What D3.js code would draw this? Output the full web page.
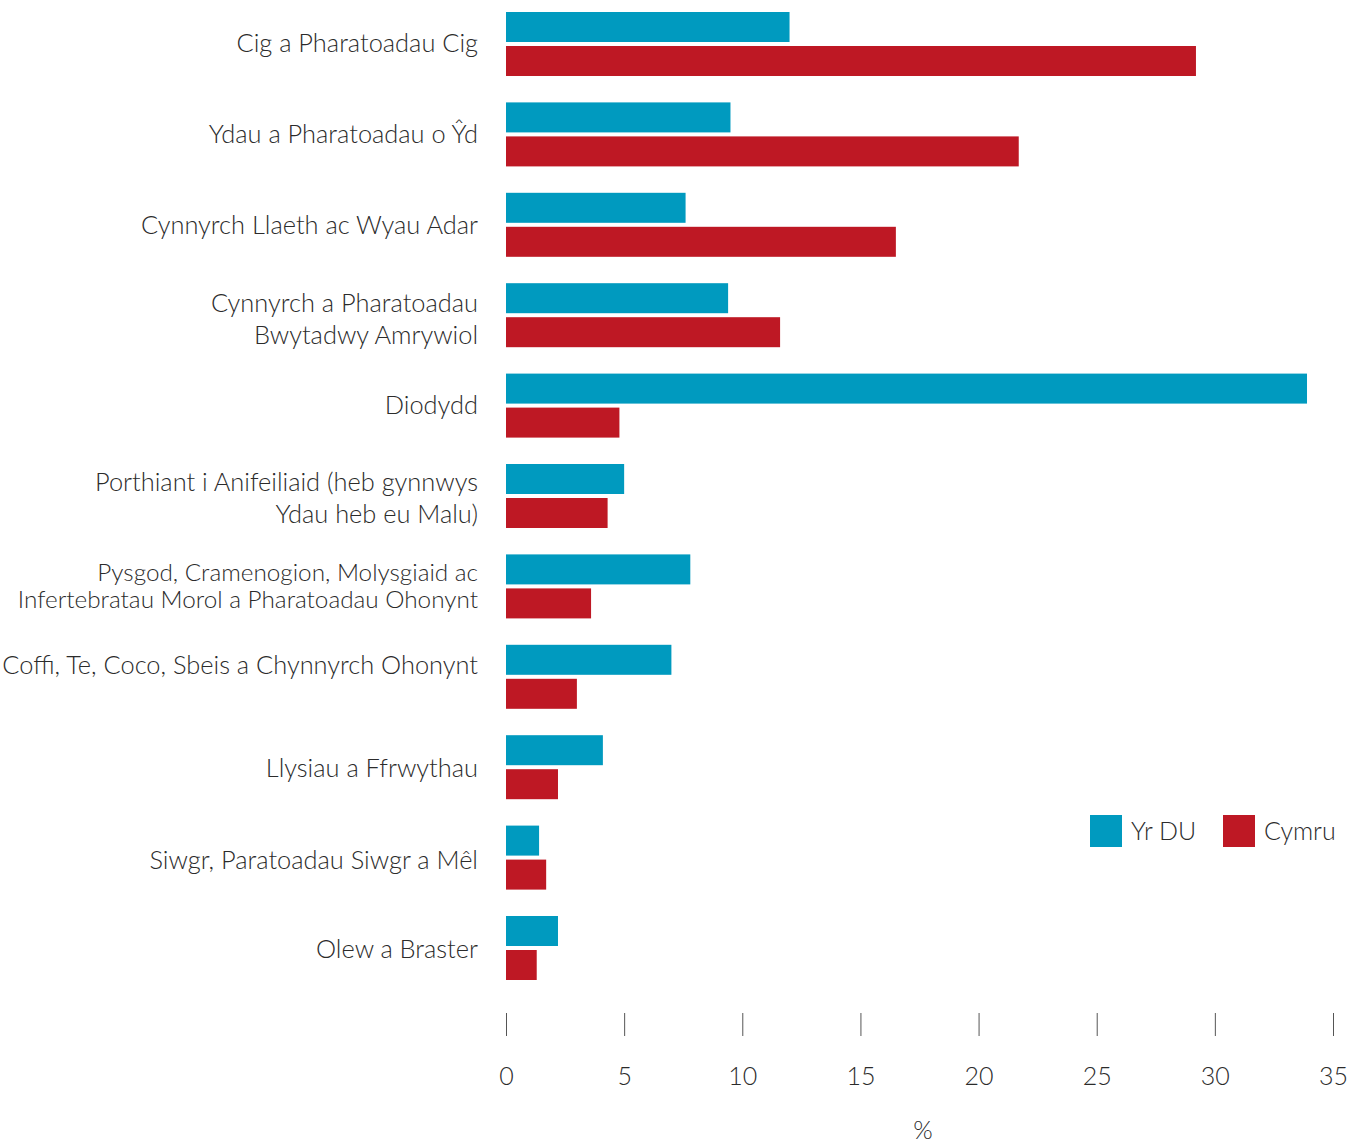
<!DOCTYPE html>
<html>
<head>
<meta charset="utf-8">
<script src="https://cdn.jsdelivr.net/npm/d3@7"></script>
<style>
  body { margin: 0; background: #fff; }
  svg text { font-family: "Lato", "Open Sans", sans-serif; font-weight: 300; fill: #2b2b2b; }
</style>
</head>
<body>
<div id="chart"></div>
<script>
// categories (each label split into lines)
const categories = [
  ["Cig a Pharatoadau Cig"],
  ["Ydau a Pharatoadau o Ŷd"],
  ["Cynnyrch Llaeth ac Wyau Adar"],
  ["Cynnyrch a Pharatoadau", "Bwytadwy Amrywiol"],
  ["Diodydd"],
  ["Porthiant i Anifeiliaid (heb gynnwys", "Ydau heb eu Malu)"],
  ["Pysgod, Cramenogion, Molysgiaid ac", "Infertebratau Morol a Pharatoadau Ohonynt"],
  ["Coffi, Te, Coco, Sbeis a Chynnyrch Ohonynt"],
  ["Llysiau a Ffrwythau"],
  ["Siwgr, Paratoadau Siwgr a Mêl"],
  ["Olew a Braster"]
];
const series = ["Yr DU", "Cymru"];
const ukValues = [12.0, 9.5, 7.6, 9.4, 33.9, 5.0, 7.8, 7.0, 4.1, 1.4, 2.2];
const walesValues = [29.2, 21.7, 16.5, 11.6, 4.8, 4.3, 3.6, 3.0, 2.2, 1.7, 1.3];
const xTicks = [0, 5, 10, 15, 20, 25, 30, 35];
const colors = ["#009abf", "#be1824"];

const W = 1349, H = 1146;
const svg = d3.select("#chart").append("svg")
  .attr("width", W).attr("height", H);

const keys = categories.map(function (d) { return d.join(" "); });

const y0 = d3.scaleBand().domain(keys).range([12, 980]).paddingInner(0.292).paddingOuter(0);
const y1 = d3.scaleBand().domain(series).range([0, y0.bandwidth()]).paddingInner(4 / 34);
const x = d3.scaleLinear().domain([0, 35]).range([506, 1333]);

// small vertical nudges of the labels as placed in the original
const labelShift = [-1, 0, 0, 4, 0, 2, 0, -12, 1, 3, 1];

const data = keys.map(function (k, i) {
  return { key: k, lines: categories[i], values: [ukValues[i], walesValues[i]], shift: labelShift[i] };
});

// bars
const groups = svg.selectAll(".grp").data(data).enter().append("g")
  .attr("class", "grp")
  .attr("transform", function (d) { return "translate(0," + y0(d.key) + ")"; });

groups.selectAll("rect").data(function (d) {
  return d.values.map(function (v, j) { return { s: series[j], v: v, c: colors[j] }; });
}).enter().append("rect")
  .attr("x", x(0))
  .attr("y", function (d) { return y1(d.s); })
  .attr("width", function (d) { return x(d.v) - x(0); })
  .attr("height", y1.bandwidth())
  .attr("fill", function (d) { return d.c; });

// category labels
groups.append("text")
  .attr("text-anchor", "end")
  .attr("x", 478)
  .each(function (d) {
    const t = d3.select(this);
    const tight = d.lines[0].startsWith("Pysgod");
    const lh = tight ? 27 : 32;
    t.attr("font-size", tight ? 24.3 : 25.4);
    const mid = y0.bandwidth() / 2 + d.shift;
    d.lines.forEach(function (ln, i) {
      t.append("tspan")
        .attr("x", 478)
        .attr("y", mid + (i - (d.lines.length - 1) / 2) * lh)
        .attr("dy", "0.35em")
        .text(ln);
    });
  });

// x axis: ticks only
const axis = svg.append("g").attr("transform", "translate(0,1013)")
  .call(d3.axisBottom(x).tickValues(xTicks).tickSize(23).tickPadding(31).tickSizeOuter(0));
axis.select(".domain").remove();
axis.selectAll(".tick line").attr("stroke", "#555").attr("stroke-width", 1);
axis.selectAll(".tick text").attr("font-size", 25).attr("fill", "#2b2b2b")
  .style("font-family", "Lato, sans-serif").style("font-weight", 300);

svg.append("text")
  .attr("x", 923).attr("y", 1130).attr("dy", "0.35em")
  .attr("text-anchor", "middle").attr("font-size", 25)
  .text("%");

// legend
const legend = svg.append("g").attr("transform", "translate(1090,815)");
const lx = [0, 133];
series.forEach(function (s, i) {
  legend.append("rect").attr("x", lx[i]).attr("y", 0)
    .attr("width", 32).attr("height", 32).attr("fill", colors[i]);
  legend.append("text").attr("x", lx[i] + 41).attr("y", 16).attr("dy", "0.35em")
    .attr("font-size", 25).text(s);
});
</script>
</body>
</html>
